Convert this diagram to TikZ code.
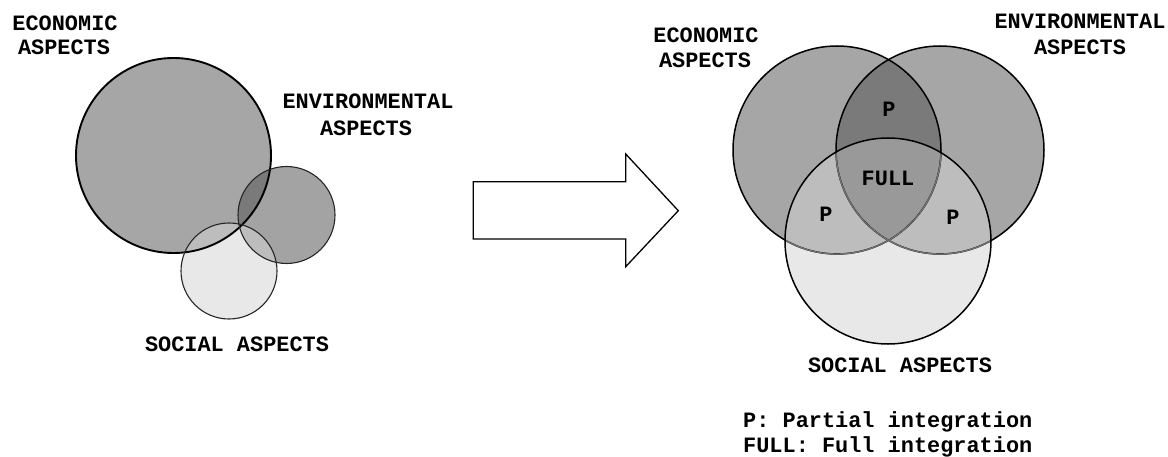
\documentclass[tikz,border=0pt]{standalone}
\usepackage{fontspec}
\setmonofont{Liberation Mono}

\definecolor{gMid}{gray}{0.65}
\definecolor{gEnv}{gray}{0.64}
\definecolor{gDark}{gray}{0.48}
\definecolor{gLite}{gray}{0.91}
\definecolor{gPart}{gray}{0.74}
\definecolor{gFull}{gray}{0.60}

\begin{document}
\begin{tikzpicture}[x=1pt,y=-1pt]
  % overall canvas
  \useasboundingbox (0,0) rectangle (1168,457);

  % styles
  \tikzset{
    r0/.style={draw=black!85,line width=1.1pt},
    r1/.style={draw=black,line width=1.9pt},
    r2/.style={draw=black,line width=1.5pt},
    r3/.style={draw=black!55,line width=1.3pt},
    t0/.style={font=\fontsize{21.9}{25}\selectfont\ttfamily\bfseries,inner sep=0pt,anchor=base},
  }

  % white background
  \fill[white] (0,0) rectangle (1168,457);

  % --- left: separate aspects ---
  \coordinate (eL) at (173.5,155.5);
  \coordinate (nL) at (286.5,215);
  \coordinate (sL) at (229,271);

  \fill[gMid] (eL) circle[radius=97.5pt];
  \fill[gEnv] (nL) circle[radius=48.5pt];
  \begin{scope}
    \clip (eL) circle[radius=97.5pt];
    \fill[gDark] (nL) circle[radius=48.5pt];
  \end{scope}
  \fill[gLite] (sL) circle[radius=48pt];
  \begin{scope}
    \clip (sL) circle[radius=48pt];
    \fill[gPart] (eL) circle[radius=97.5pt];
    \fill[gPart] (nL) circle[radius=48.5pt];
  \end{scope}
  \draw[r1] (eL) circle[radius=97.5pt];
  \draw[r0] (nL) circle[radius=48.5pt];
  \draw[r0] (sL) circle[radius=48pt];

  \node[t0] (ecoL1) at (65,31) {ECONOMIC};
  \node[t0] (ecoL2) at (64,55) {ASPECTS};
  \node[t0] (envL1) at (368,109) {ENVIRONMENTAL};
  \node[t0] (envL2) at (366,136) {ASPECTS};
  \node[t0] (socL) at (237,351) {SOCIAL ASPECTS};

  % --- big arrow ---
  \draw[line width=1.3pt,line join=miter,fill=white]
    (473.3,181.7) -- (625.7,181.7) -- (625.7,154) -- (678.3,210.7) --
    (625.7,266.7) -- (625.7,239) -- (473.3,239) -- cycle;

  % --- right: integrated aspects ---
  \coordinate (eR) at (837,150);
  \coordinate (nR) at (940,150);
  \coordinate (sR) at (888,241);

  \fill[gMid] (eR) circle[radius=104pt];
  \fill[gMid] (nR) circle[radius=104pt];
  \begin{scope}
    \clip (eR) circle[radius=104pt];
    \fill[gDark] (nR) circle[radius=104pt];
  \end{scope}
  \fill[gLite] (sR) circle[radius=103pt];
  \begin{scope}
    \clip (sR) circle[radius=103pt];
    \fill[gPart] (eR) circle[radius=104pt];
    \fill[gPart] (nR) circle[radius=104pt];
    \clip (eR) circle[radius=104pt];
    \fill[gFull] (nR) circle[radius=104pt];
  \end{scope}
  \draw[r2] (eR) circle[radius=104pt];
  \draw[r2] (nR) circle[radius=104pt];
  \begin{scope}
    \clip (sR) circle[radius=103pt];
    \draw[r3] (eR) circle[radius=104pt];
    \draw[r3] (nR) circle[radius=104pt];
  \end{scope}
  \draw[r2] (sR) circle[radius=103pt];

  \node[t0] (ecoR1) at (706,43) {ECONOMIC};
  \node[t0] (ecoR2) at (705,68) {ASPECTS};
  \node[t0] (envR1) at (1080,29) {ENVIRONMENTAL};
  \node[t0] (envR2) at (1080,55) {ASPECTS};
  \node[t0] (socR) at (900,372) {SOCIAL ASPECTS};

  \node[t0] (pTop) at (889,117) {P};
  \node[t0] (full) at (888,186) {FULL};
  \node[t0] (pLft) at (826,222) {P};
  \node[t0] (pRgt) at (953,225) {P};

  % legend
  \node[t0,anchor=base west] (key1) at (743,427) {P: Partial integration};
  \node[t0,anchor=base west] (key2) at (743,452) {FULL: Full integration};
\end{tikzpicture}
\end{document}
